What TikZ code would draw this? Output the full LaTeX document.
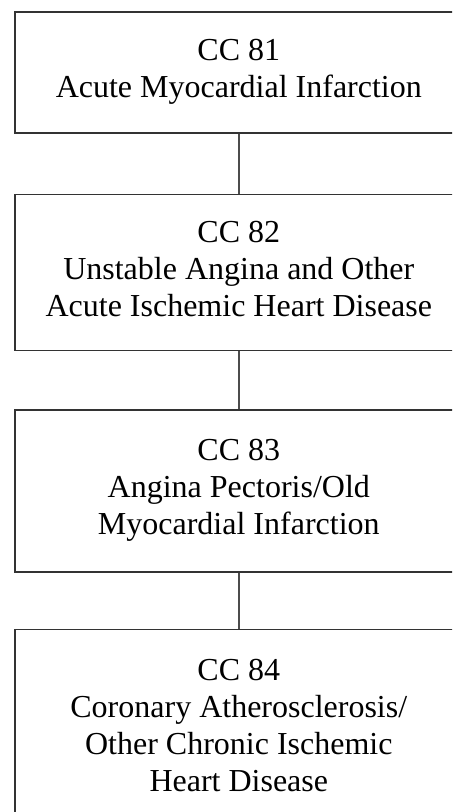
\documentclass[tikz,border=0pt]{standalone}
\usepackage{fontspec}
\setmainfont{Liberation Serif}
\usepackage{tikz}
\usetikzlibrary{positioning}

\begin{document}
\begin{tikzpicture}[
    ccbox/.style={draw=black!80, line width=0.8pt, minimum width=224pt,
                  inner sep=0pt, align=center, text depth=4pt,
                  font=\fontsize{16}{18.5}\selectfont},
    link/.style={draw=black!70, line width=0.8pt},
    node distance=30pt
]
    \useasboundingbox (0,0) rectangle (226pt,-406pt);
    \clip (0,0) rectangle (226pt,-406pt);
    \node[ccbox, minimum height=60.5pt, anchor=north west] (cc81) at (7pt,-5.5pt)
        {CC 81\\Acute Myocardial Infarction};
    \node[ccbox, minimum height=78pt, below=of cc81] (cc82)
        {CC 82\\Unstable Angina and Other\\Acute Ischemic Heart Disease};
    \node[ccbox, minimum height=81pt, below=29pt of cc82] (cc83)
        {CC 83\\Angina Pectoris/Old\\Myocardial Infarction};
    \node[ccbox, minimum height=100pt, below=28pt of cc83] (cc84)
        {CC 84\\Coronary Atherosclerosis/\\Other Chronic Ischemic\\Heart Disease};
    \draw[link] (cc81) -- (cc82);
    \draw[link] (cc82) -- (cc83);
    \draw[link] (cc83) -- (cc84);
\end{tikzpicture}
\end{document}
